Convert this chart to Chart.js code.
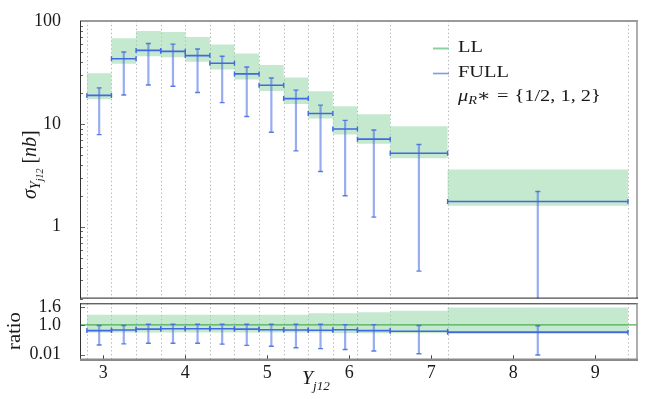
<!DOCTYPE html>
<html>
<head>
<meta charset="utf-8">
<script src="https://cdn.jsdelivr.net/npm/chart.js@4.4.1/dist/chart.umd.min.js"></script>
<style>
  html, body { margin: 0; padding: 0; background: #fff; }
  #wrap { position: relative; width: 664px; height: 399px; overflow: hidden; }
  canvas { position: absolute; left: 0; }
  #top { top: 0; }
  #bottom { top: 290px; }
</style>
</head>
<body>
<div id="wrap">
  <canvas id="top" width="664" height="304"></canvas>
  <canvas id="bottom" width="664" height="109"></canvas>
</div>
<script>
// bin edges in Y_j12
const binEdges = [2.8, 3.1, 3.4, 3.7, 4.0, 4.3, 4.6, 4.9, 5.2, 5.5, 5.8, 6.1, 6.5, 7.2, 9.4];

// top panel, sigma in nb
const fullCentral = [18.9, 42.9, 51.8, 50.7, 46.1, 38.9, 30.6, 23.7, 17.6, 12.6, 8.9, 7.1, 5.18, 1.76];
const fullHi = [22.4, 50, 60.4, 59.6, 53.4, 45.4, 35.7, 27.9, 21.3, 15.2, 10.8, 8.7, 6.3, 2.2];
const fullLo = [7.86, 19.1, 23.9, 23.2, 20.2, 16.1, 11.8, 8.3, 5.46, 3.44, 2.0, 1.24, 0.37, 0.1];
const llHi = [31.1, 68, 79.8, 78, 70, 59, 48.2, 37.3, 28.3, 20.8, 14.8, 12.4, 9.5, 3.6];
const llLo = [17.3, 38.5, 45.4, 44.4, 40.2, 33.7, 27, 20.9, 15.6, 11.3, 7.86, 6.4, 4.64, 1.6];

// ratio panel
const ratioFull = [0.81, 0.83, 0.86, 0.87, 0.87, 0.87, 0.86, 0.84, 0.83, 0.82, 0.84, 0.81, 0.79, 0.76];
const ratioErrHi = [0.98, 0.98, 1.02, 1.02, 1.02, 1.02, 1.02, 1.02, 1.02, 1.02, 1.01, 1.01, 0.98, 0.97];
const ratioErrLo = [0.33, 0.37, 0.39, 0.39, 0.39, 0.36, 0.32, 0.29, 0.24, 0.21, 0.18, 0.13, 0.04, 0.0];
const ratioBandHi = [1.34, 1.34, 1.34, 1.34, 1.34, 1.34, 1.34, 1.34, 1.34, 1.39, 1.39, 1.42, 1.47, 1.58];
const ratioBandLo = [0.75, 0.75, 0.75, 0.75, 0.75, 0.75, 0.75, 0.75, 0.75, 0.75, 0.72, 0.72, 0.72, 0.70];

// axes
const xTicks = [3, 4, 5, 6, 7, 8, 9];
const yTicks = [1, 10, 100];
const ratioTicks = [0.01, 1.0, 1.6];
const ratioTickLabels = ['0.01', '1.0', '1.6'];
const X_MIN = 2.716, X_MAX = 9.51;

const BLUE = '#4169e1';
const BLUE_BAR = 'rgba(65,105,225,0.55)';
const BAND = 'rgba(150,215,165,0.55)';
const UNITY = '#4caf50';
const SERIF = '"Liberation Serif", "DejaVu Serif", serif';

Chart.defaults.font.family = SERIF;
Chart.defaults.font.size = 18;
Chart.defaults.color = '#1a1a1a';

function stepPoints(vals) {
  return binEdges.map((e, i) => ({ x: e, y: vals[Math.min(i, vals.length - 1)] }));
}

function binSegments(vals) {
  const pts = [];
  vals.forEach((v, i) => {
    pts.push({ x: binEdges[i], y: v }, { x: binEdges[i + 1], y: v }, { x: binEdges[i + 1], y: null });
  });
  return pts;
}

function errorBars(hi, lo) {
  const pts = [];
  hi.forEach((h, i) => {
    const c = (binEdges[i] + binEdges[i + 1]) / 2;
    pts.push({ x: c, y: h }, { x: c, y: lo[i] }, { x: c, y: null });
  });
  return pts;
}

function makeDatasets(central, hi, lo, bandHi, bandLo, withUnity) {
  const ds = [
    {
      data: binSegments(central), borderColor: BLUE, borderWidth: 1.6,
      pointStyle: 'line', pointRotation: 90, pointRadius: 2.5,
      pointBorderColor: BLUE, pointBorderWidth: 1.4, spanGaps: false
    },
    {
      data: errorBars(hi, lo), borderColor: BLUE_BAR, borderWidth: 2.2,
      pointStyle: 'line', pointRotation: 0, pointRadius: 2.5,
      pointBorderColor: 'rgba(65,105,225,0.85)', pointBorderWidth: 1.4, spanGaps: false
    }
  ];
  if (withUnity) {
    ds.push({
      data: [{ x: X_MIN, y: 1 }, { x: X_MAX, y: 1 }],
      borderColor: UNITY, borderWidth: 1.2, pointRadius: 0
    });
  }
  ds.push(
    {
      data: stepPoints(bandHi), stepped: 'before', borderColor: 'rgba(0,0,0,0)',
      pointRadius: 0, fill: '+1', backgroundColor: BAND
    },
    {
      data: stepPoints(bandLo), stepped: 'before', borderColor: 'rgba(0,0,0,0)',
      pointRadius: 0, fill: false
    }
  );
  return ds;
}

// dotted vertical lines at the bin edges
const binGrid = {
  id: 'binGrid',
  beforeDatasetsDraw(chart) {
    const { ctx, chartArea, scales } = chart;
    ctx.save();
    ctx.strokeStyle = '#b4b4b4';
    ctx.lineWidth = 1;
    ctx.setLineDash([1.3, 2.6]);
    binEdges.forEach(e => {
      const px = Math.round(scales.x.getPixelForValue(e)) + 0.5;
      ctx.beginPath();
      ctx.moveTo(px, chartArea.top);
      ctx.lineTo(px, chartArea.bottom);
      ctx.stroke();
    });
    ctx.restore();
  }
};

function line(ctx, x1, y1, x2, y2, color, width) {
  ctx.strokeStyle = color;
  ctx.lineWidth = width;
  ctx.beginPath();
  ctx.moveTo(x1, y1);
  ctx.lineTo(x2, y2);
  ctx.stroke();
}

// text runs, sx stretches along the text direction (the TeX font is wider)
function drawRuns(ctx, x, y, runs, sx) {
  ctx.save();
  ctx.translate(x, y);
  ctx.scale(sx || 1, 1);
  let cx = 0;
  runs.forEach(r => {
    ctx.font = r.font;
    ctx.fillText(r.t, cx, r.dy || 0);
    cx += ctx.measureText(r.t).width + (r.gap || 0);
  });
  ctx.restore();
}

const topDecor = {
  id: 'topDecor',
  afterDatasetsDraw(chart) {
    const { ctx, chartArea: a, scales } = chart;
    ctx.save();
    // minor ticks on the log axis, inside
    const y = scales.y;
    for (let d = 0.1; d <= 100; d *= 10) {
      for (let m = 1; m <= 9; m++) {
        const v = d * m;
        if (v < y.min || v > y.max) continue;
        const py = Math.round(y.getPixelForValue(v)) + 0.5;
        line(ctx, a.left, py, a.left + (m === 1 ? 5 : 3), py, '#666', 1);
      }
    }
    // frame
    line(ctx, a.left, a.top, a.right + 1, a.top, '#9a9a9a', 2);
    line(ctx, a.right, a.top, a.right, a.bottom, '#9a9a9a', 1.6);
    line(ctx, a.left + 0.5, a.top, a.left + 0.5, a.bottom, '#333', 1);
    line(ctx, a.left, a.bottom - 0.5, a.right + 1, a.bottom - 0.5, '#222', 1);

    // legend
    ctx.fillStyle = '#1a1a1a';
    ctx.textBaseline = 'alphabetic';
    line(ctx, 433, 48.5, 449, 48.5, '#8fd19e', 2);
    line(ctx, 433, 73.5, 449, 73.5, '#7f99ee', 1.6);
    const f = '17px ' + SERIF, fi = 'italic 17px ' + SERIF;
    drawRuns(ctx, 458, 52.3, [{ t: 'LL', font: f }], 1.2);
    drawRuns(ctx, 458, 77.3, [{ t: 'FULL', font: f }], 1.2);
    drawRuns(ctx, 458, 101, [
      { t: 'μ', font: fi },
      { t: 'R', font: 'italic 12px ' + SERIF, dy: 3 },
      { t: '∗', font: f, gap: 5 },
      { t: '=', font: f, gap: 5 },
      { t: '{1/2, 1, 2}', font: f }
    ], 1.2);

    // y title, rotated
    ctx.translate(36, 199);
    ctx.rotate(-Math.PI / 2);
    drawRuns(ctx, 0, 0, [
      { t: 'σ', font: 'italic 20px ' + SERIF },
      { t: 'Y', font: 'italic 14px ' + SERIF, dy: 4 },
      { t: 'j12', font: 'italic 10px ' + SERIF, dy: 7, gap: 5 },
      { t: '[', font: '20px ' + SERIF },
      { t: 'nb', font: 'italic 20px ' + SERIF },
      { t: ']', font: '20px ' + SERIF }
    ]);
    ctx.restore();
  }
};

const bottomDecor = {
  id: 'bottomDecor',
  afterDatasetsDraw(chart) {
    const { ctx, chartArea: a, scales } = chart;
    ctx.save();
    xTicks.forEach(v => {
      const px = Math.round(scales.x.getPixelForValue(v)) + 0.5;
      line(ctx, px, a.bottom, px, a.bottom - 4, '#444', 1);
    });
    ratioTicks.forEach(v => {
      const py = Math.round(scales.y.getPixelForValue(v)) + 0.5;
      line(ctx, a.left, py, a.left + 5, py, '#666', 1);
    });
    line(ctx, a.left, a.top + 0.5, a.right + 1, a.top + 0.5, '#222', 1);
    line(ctx, a.right, a.top, a.right, a.bottom, '#9a9a9a', 1.6);
    line(ctx, a.left + 0.5, a.top, a.left + 0.5, a.bottom, '#333', 1);
    line(ctx, a.left, a.bottom + 0.5, a.right + 1, a.bottom + 0.5, '#8a8a8a', 2.5);

    ctx.fillStyle = '#1a1a1a';
    ctx.textBaseline = 'alphabetic';
    // x title
    drawRuns(ctx, 302, 94, [
      { t: 'Y', font: 'italic 18px ' + SERIF },
      { t: 'j12', font: 'italic 12px ' + SERIF, dy: 6 }
    ], 1.1);
    // ratio label
    ctx.translate(20, 60);
    ctx.rotate(-Math.PI / 2);
    drawRuns(ctx, 0, 0, [{ t: 'ratio', font: '18px ' + SERIF }], 1.15);
    ctx.restore();
  }
};

function fixY(width) {
  return scale => {
    scale.width = width;
    scale.paddingTop = 0;
    scale.paddingBottom = 0;
  };
}

const common = {
  responsive: false,
  animation: false,
  events: [],
  plugins: { legend: { display: false }, tooltip: { enabled: false } }
};

new Chart(document.getElementById('top'), {
  type: 'line',
  data: { datasets: makeDatasets(fullCentral, fullHi, fullLo, llHi, llLo, false) },
  options: Object.assign({}, common, {
    layout: { padding: { left: 0, right: 27, top: 21, bottom: 0.5 } },
    scales: {
      x: { type: 'linear', min: X_MIN, max: X_MAX, display: false },
      y: {
        type: 'logarithmic', min: 0.2, max: 100,
        afterFit: fixY(80),
        afterBuildTicks: s => { s.ticks = yTicks.map(v => ({ value: v, major: true })); },
        grid: { display: false },
        border: { display: false },
        ticks: { padding: 11, autoSkip: false, color: '#1a1a1a', callback: v => String(v) }
      }
    }
  }),
  plugins: [binGrid, topDecor]
});

new Chart(document.getElementById('bottom'), {
  type: 'line',
  data: { datasets: makeDatasets(ratioFull, ratioErrHi, ratioErrLo, ratioBandHi, ratioBandLo, true) },
  options: Object.assign({}, common, {
    layout: { padding: { left: 0, right: 27, top: 13.3, bottom: 0 } },
    scales: {
      x: {
        type: 'linear', min: X_MIN, max: X_MAX,
        afterFit: s => { s.height = 39.7; s.paddingLeft = 0; s.paddingRight = 0; },
        afterBuildTicks: s => { s.ticks = xTicks.map(v => ({ value: v })); },
        grid: { display: false },
        border: { display: false },
        ticks: { padding: -5, autoSkip: false, maxRotation: 0, color: '#1a1a1a' }
      },
      y: {
        type: 'linear', min: -0.145, max: 1.72,
        afterFit: fixY(80),
        afterBuildTicks: s => { s.ticks = ratioTicks.map(v => ({ value: v })); },
        grid: { display: false },
        border: { display: false },
        ticks: {
          padding: 11, autoSkip: false, color: '#1a1a1a',
          callback: (v, i) => ratioTickLabels[i]
        }
      }
    }
  }),
  plugins: [binGrid, bottomDecor]
});
</script>
</body>
</html>
